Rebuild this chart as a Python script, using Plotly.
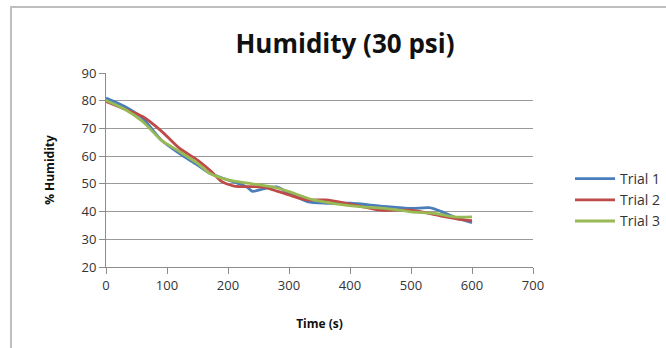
import plotly.graph_objects as go

t1 = [0, 30, 60, 90, 120, 150, 170, 200, 230, 240, 260, 280, 300, 330, 360, 400, 450, 500, 530, 550, 570, 600]
h1 = [81, 78, 73.7, 65.9, 61, 56.8, 53.8, 51.4, 49, 47.3, 48.3, 48.9, 46.6, 43.6, 43, 43, 42, 41.1, 41.4, 40, 38.1, 36]

t2 = [0, 30, 60, 90, 120, 150, 170, 190, 210, 240, 260, 280, 300, 330, 360, 400, 450, 500, 550, 580, 600]
h2 = [79.7, 77, 74.3, 69.2, 62.9, 58.6, 55, 50.8, 49.2, 49, 48.7, 47.4, 46, 44.2, 44.2, 42.7, 40.5, 40.5, 38.4, 37.2, 36.7]

t3 = [0, 30, 60, 90, 120, 150, 170, 200, 240, 280, 300, 340, 380, 420, 460, 500, 540, 570, 600]
h3 = [80.1, 77, 72.5, 65.9, 61.7, 57.4, 53.8, 51.4, 50, 48.6, 47.2, 44.2, 42.7, 41.7, 41.1, 39.9, 39.3, 38.1, 38.1]

names = ["Trial 1", "Trial 2", "Trial 3"]
colors = ["#4a7ebb", "#be4b48", "#98b954"]

x_ticks = [0, 100, 200, 300, 400, 500, 600, 700]
y_ticks = [20, 30, 40, 50, 60, 70, 80, 90]

W, H = 666, 348
L, R, T, B = 106, 133, 73, 81

fig = go.Figure()
for xs, ys, n, c in zip([t1, t2, t3], [h1, h2, h3], names, colors):
    fig.add_trace(go.Scatter(x=xs, y=ys, mode="lines", name=n,
                             line=dict(color=c, width=2.8, shape="spline", smoothing=0.7)))

pw = W - L - R
ph = H - T - B
def px_to_paper_x(p):
    return (p - L) / pw
def px_to_paper_y(p):
    return 1 - (p - T) / ph

fig.add_shape(type="rect", xref="paper", yref="paper",
              x0=px_to_paper_x(11), x1=px_to_paper_x(700),
              y0=px_to_paper_y(400), y1=px_to_paper_y(7),
              line=dict(color="#bfbfbf", width=2), fillcolor="rgba(0,0,0,0)", layer="below")

fig.update_layout(
    width=W, height=H,
    margin=dict(l=L, r=R, t=T, b=B, autoexpand=False),
    paper_bgcolor="white", plot_bgcolor="white",
    font=dict(family="Open Sans, Liberation Sans, sans-serif", color="#333333", size=12),
    title=dict(text="<b>Humidity (30 psi)</b>", x=345 / W, xanchor="center",
               y=1 - 44 / H, yanchor="middle",
               font=dict(size=26, color="#111111", family="Open Sans, sans-serif")),
    xaxis=dict(range=[0, 700], tickvals=x_ticks, ticks="outside", ticklen=6,
               tickcolor="#8c8c8c", showline=True, linecolor="#8c8c8c", linewidth=1,
               showgrid=False, zeroline=False,
               tickfont=dict(size=13, color="#333333"),
               title=dict(text="<b>Time (s)</b>", font=dict(size=12, color="#111111"), standoff=27)),
    yaxis=dict(range=[20, 90], tickvals=y_ticks, ticks="outside", ticklen=6,
               tickcolor="#8c8c8c", showline=True, linecolor="#8c8c8c", linewidth=1,
               showgrid=True, gridcolor="#9a9a9a", gridwidth=1.3, zeroline=False,
               tickfont=dict(size=13, color="#333333"),
               title=dict(text="<b>% Humidity</b>", font=dict(size=12, color="#111111"), standoff=24)),
    legend=dict(x=px_to_paper_x(570), y=px_to_paper_y(163), xanchor="left", yanchor="top",
                font=dict(size=14, color="#333333"), tracegroupgap=1,
                itemwidth=40, bgcolor="rgba(0,0,0,0)"),
    showlegend=True,
)

fig.write_html("out.html")
